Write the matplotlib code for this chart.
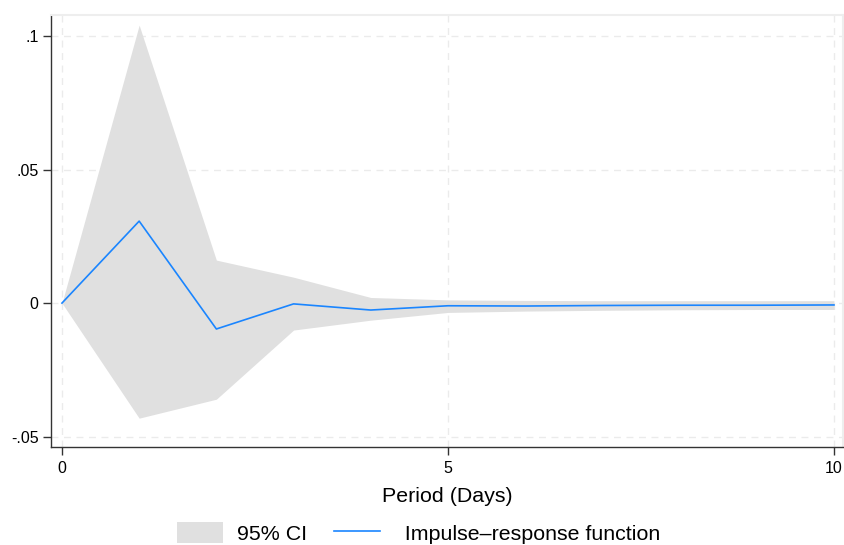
import matplotlib
matplotlib.use("Agg")
import matplotlib.pyplot as plt
from matplotlib.patches import Patch
from matplotlib.lines import Line2D

periods = [0, 1, 2, 3, 4, 5, 6, 7, 8, 9, 10]
irf = [0.0, 0.0307, -0.0097, -0.0003, -0.0026, -0.0010, -0.0011, -0.0009, -0.0008, -0.0008, -0.0007]
ci_lo = [0.0, -0.0431, -0.0360, -0.0101, -0.0064, -0.0035, -0.0030, -0.0027, -0.0025, -0.0024, -0.0024]
ci_hi = [0.0, 0.1041, 0.0161, 0.0097, 0.0021, 0.0012, 0.0010, 0.0009, 0.0009, 0.0009, 0.0009]

yticks = [-0.05, 0, 0.05, 0.1]
ytick_labels = ["-.05", "0", ".05", ".1"]
xticks = [0, 5, 10]

plt.rcParams['font.family'] = ['Liberation Sans', 'DejaVu Sans']

fig = plt.figure(figsize=(8.44, 5.45), dpi=100)
ax = fig.add_axes([51/844, (545-447)/545, (843-51)/844, (447-15)/545])

fill_c = '#e0e0e0'
line_c = '#1a85ff'
ax.fill_between(periods, ci_lo, ci_hi, color=fill_c, lw=0, zorder=2)
ax.plot(periods, irf, color=line_c, lw=1.2, zorder=3)

ax.set_xlim(-0.142, 10.117)
ax.set_ylim(-0.0539, 0.1079)
ax.set_yticks(yticks)
ax.set_yticklabels(ytick_labels)
ax.set_xticks(xticks)
ax.grid(True, color='#ebebeb', ls=(0, (5, 4)), lw=1.0, zorder=1)
ax.tick_params(axis='both', labelsize=11.5, length=6, width=1, color='#333333', labelcolor='black')
ax.tick_params(axis='x', pad=4)
ax.tick_params(axis='y', pad=3)

for s in ['left', 'bottom']:
    ax.spines[s].set_color('#333333')
    ax.spines[s].set_linewidth(1)
for s in ['top', 'right']:
    ax.spines[s].set_color('#eeeeee')
    ax.spines[s].set_linewidth(1.5)

ax.set_xlabel('Period (Days)', fontsize=15.4, labelpad=8)

handles = [Patch(facecolor=fill_c, edgecolor='none'),
           Line2D([0], [0], color=line_c, lw=1.2)]
fig.legend(handles, ['95% CI', '\u2002Impulse\u2013response function'],
           loc='center', bbox_to_anchor=(418.5/844, 12/545), ncol=2,
           frameon=False, fontsize=15.4, handlelength=2.15, handleheight=1.1,
           columnspacing=1.26, handletextpad=0.65, borderaxespad=0, borderpad=0)

fig.savefig('out.png', dpi=100)
